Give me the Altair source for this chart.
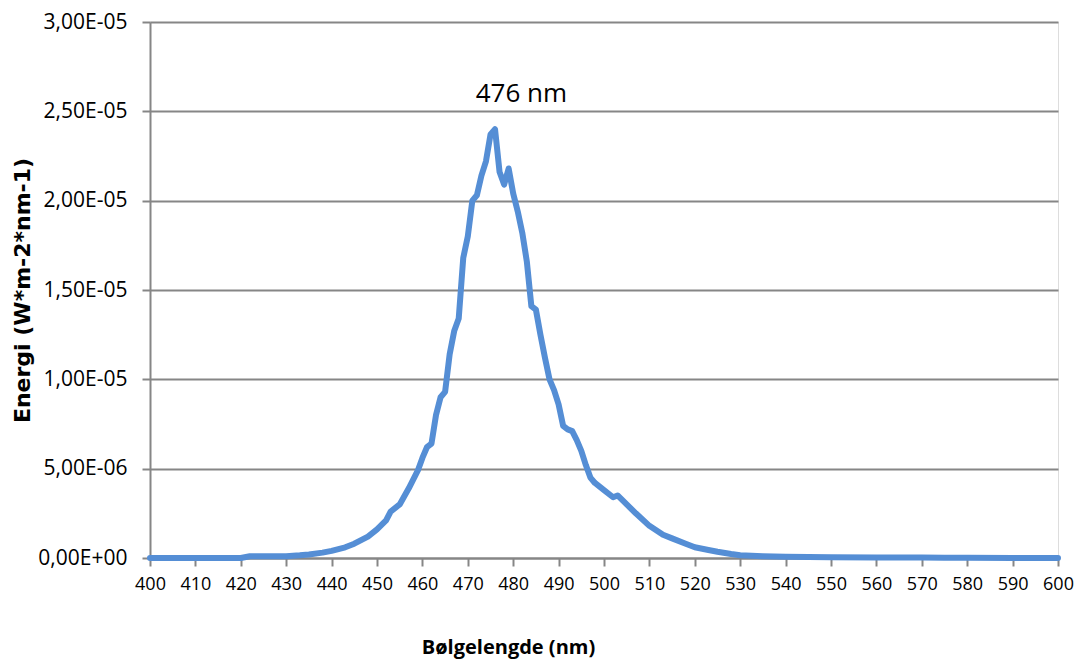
import altair as alt
import pandas as pd

# Wavelength (nm) and energy (W*m-2*nm-1)
wavelength = [400, 405, 410, 415, 420, 422, 425, 430, 433, 435, 438, 440, 443, 445, 448,
              450, 452, 453, 455, 457, 459, 460, 461, 462, 463, 464, 465, 466, 467, 468,
              469, 470, 471, 472, 473, 474, 475, 476, 477, 478, 479, 480, 481, 482, 483,
              484, 485, 486, 487, 488, 489, 490, 491, 492, 493, 494, 495, 496, 497, 498,
              500, 502, 503, 505, 507, 510, 513, 515, 518, 520, 523, 525, 528, 530, 535,
              540, 545, 550, 560, 570, 575, 580, 590, 600]
energy = [0.0, 0.0, 0.0, 0.0, 0.0, 0.1e-6, 0.1e-6, 0.1e-6, 0.15e-6, 0.2e-6, 0.3e-6, 0.4e-6, 0.6e-6, 0.8e-6, 1.2e-6,
          1.6e-6, 2.1e-6, 2.6e-6, 3.0e-6, 3.9e-6, 4.9e-6, 5.6e-6, 6.2e-6, 6.4e-6, 8.0e-6, 9.0e-6, 9.3e-6, 11.4e-6, 12.7e-6, 13.4e-6,
          16.8e-6, 18.0e-6, 20.0e-6, 20.3e-6, 21.4e-6, 22.2e-6, 23.7e-6, 24.0e-6, 21.6e-6, 20.9e-6, 21.8e-6, 20.4e-6, 19.4e-6, 18.2e-6, 16.6e-6,
          14.1e-6, 13.9e-6, 12.5e-6, 11.2e-6, 10.0e-6, 9.4e-6, 8.6e-6, 7.4e-6, 7.2e-6, 7.1e-6, 6.6e-6, 6.0e-6, 5.2e-6, 4.5e-6, 4.2e-6,
          3.8e-6, 3.4e-6, 3.5e-6, 3.0e-6, 2.5e-6, 1.8e-6, 1.3e-6, 1.1e-6, 0.8e-6, 0.6e-6, 0.45e-6, 0.35e-6, 0.22e-6, 0.15e-6, 0.1e-6,
          0.07e-6, 0.05e-6, 0.04e-6, 0.03e-6, 0.03e-6, 0.02e-6, 0.01e-6, 0.0, 0.0]

y_ticks = [0.0, 5e-6, 1e-5, 1.5e-5, 2e-5, 2.5e-5, 3e-5]
y_labels = ["0,00E+00", "5,00E-06", "1,00E-05", "1,50E-05", "2,00E-05", "2,50E-05", "3,00E-05"]
x_ticks = list(range(400, 601, 10))

annot_x = [481.8]
annot_y = [2.595e-5]
annot_text = ["476 nm"]

df = pd.DataFrame({"wl": wavelength, "e": energy})
ann = pd.DataFrame({"x": annot_x, "y": annot_y, "t": annot_text})

label_expr = " : ".join(
    f"abs(datum.value - {v}) < 1e-9 ? '{l}'" for v, l in zip(y_ticks, y_labels)
) + " : ''"

FONT = "Open Sans"
GRAY = "#868686"
W = 908

x_scale = alt.Scale(domain=[400, 600], nice=False, zero=False)
y_scale = alt.Scale(domain=[0, 3e-5], nice=False)

line = alt.Chart(df).mark_line(
    color="#558ED5", strokeWidth=6, strokeCap="round", strokeJoin="round"
).encode(
    x=alt.X("wl:Q", scale=x_scale,
            axis=alt.Axis(values=x_ticks, title="Bølgelengde (nm)", grid=False,
                          domainColor=GRAY, domainWidth=2, tickColor=GRAY, tickWidth=2,
                          tickSize=8, labelFontSize=18, labelPadding=9, labelColor="#000000",
                          labelFont=FONT, titleFont=FONT, titleFontSize=20,
                          titleFontWeight="bold", titleColor="#000000",
                          titleX=358, titleY=89, titleAlign="center", titleBaseline="middle",
                          labelFlush=False)),
    y=alt.Y("e:Q", scale=y_scale,
            axis=alt.Axis(values=y_ticks, labelExpr=label_expr,
                          title="Energi (W*m-2*nm-1)", grid=True, gridColor=GRAY,
                          gridWidth=2, domainColor=GRAY, domainWidth=2, tickColor=GRAY,
                          tickWidth=2, tickSize=8, labelFontSize=21, labelPadding=15,
                          labelColor="#000000", labelFont=FONT, titleFont="DejaVu Sans",
                          titleFontSize=22, titleFontWeight="bold", titleColor="#000000",
                          titleX=-128, titleBaseline="middle", labelFlush=False)),
)

text = alt.Chart(ann).mark_text(
    fontSize=26, font=FONT, color="#000000", align="center", baseline="middle"
).encode(
    x=alt.X("x:Q", scale=x_scale),
    y=alt.Y("y:Q", scale=y_scale),
    text="t:N",
)

chart = (line + text).properties(
    width=W, height=536,
    autosize=alt.AutoSizeParams(type="none"),
    padding={"left": 142, "top": 14, "right": 18, "bottom": 102},
).configure_view(stroke=None).configure(background="#ffffff")

chart.save("out.html", embed_options={"renderer": "svg", "actions": False})
